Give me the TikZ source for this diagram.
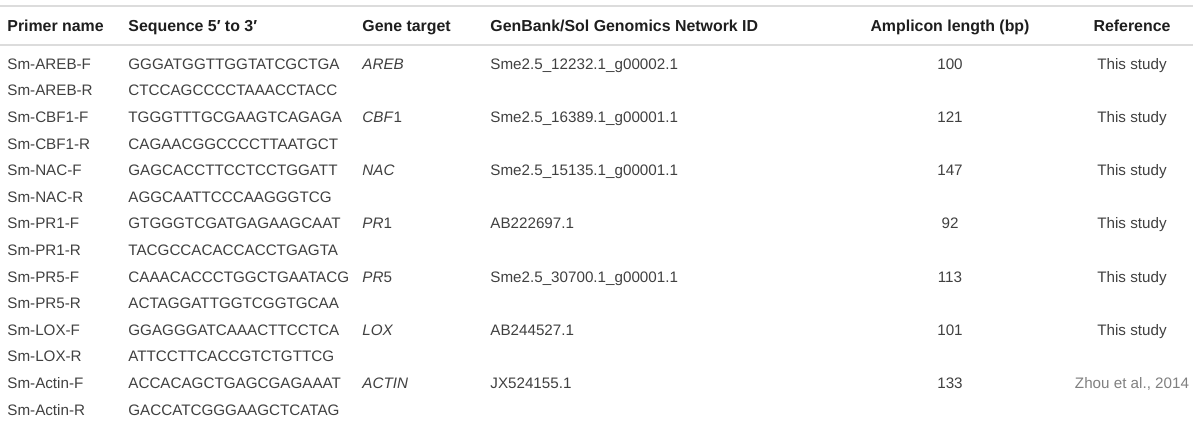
\documentclass[tikz,border=0pt]{standalone}
\usepackage{fontspec}
\setmainfont{Liberation Sans}
\definecolor{body}{HTML}{404040}
\definecolor{head}{HTML}{1E1E1E}
\definecolor{rulec}{HTML}{DCDCDC}
\definecolor{linkc}{HTML}{808080}
\tikzset{
  cell/.style={anchor=mid west, inner sep=0pt, font=\fontsize{7.6}{9}\selectfont, text=body},
  hcell/.style={anchor=mid west, inner sep=0pt, font=\fontsize{7.95}{9}\selectfont\bfseries, text=head},
  ccell/.style={cell, anchor=mid},
  hccell/.style={hcell, anchor=mid},
  rulestyle/.style={draw=rulec, line width=1pt}
}
\begin{document}
\begin{tikzpicture}[x=0.5pt,y=-0.5pt]
\useasboundingbox (0,0) rectangle (1200,425);
% rules
\coordinate (r1a) at (0,5.5); \coordinate (r1b) at (1193,5.5);
\coordinate (r2a) at (0,45); \coordinate (r2b) at (1193,45);
\draw[rulestyle] (r1a) -- (r1b);
\draw[rulestyle] (r2a) -- (r2b);
% header
\node[hcell] (h1) at (7,26) {Primer name};
\node[hcell] (h2) at (128,26) {Sequence 5′ to 3′};
\node[hcell] (h3) at (362,26) {Gene target};
\node[hcell] (h4) at (490,26) {GenBank/Sol Genomics Network ID};
\node[hccell] (h5) at (950,26) {Amplicon length (bp)};
\node[hccell] (h6) at (1132,26) {Reference};
% row 1
\node[cell] (a1) at (7,64) {Sm-AREB-F};
\node[cell] (b1) at (128,64) {GGGATGGTTGGTATCGCTGA};
\node[cell] (c1) at (362,64) {\itshape AREB};
\node[cell] (d1) at (490,64) {Sme2.5\_12232.1\_g00002.1};
\node[ccell] (e1) at (950,64) {100};
\node[ccell] (f1) at (1132,64) {This study};
% row 2
\node[cell] (a2) at (7,90.6) {Sm-AREB-R};
\node[cell] (b2) at (128,90.6) {CTCCAGCCCCTAAACCTACC};
% row 3
\node[cell] (a3) at (7,117.2) {Sm-CBF1-F};
\node[cell] (b3) at (128,117.2) {TGGGTTTGCGAAGTCAGAGA};
\node[cell] (c3) at (362,117.2) {\textit{CBF}1};
\node[cell] (d3) at (490,117.2) {Sme2.5\_16389.1\_g00001.1};
\node[ccell] (e3) at (950,117.2) {121};
\node[ccell] (f3) at (1132,117.2) {This study};
% row 4
\node[cell] (a4) at (7,143.8) {Sm-CBF1-R};
\node[cell] (b4) at (128,143.8) {CAGAACGGCCCCTTAATGCT};
% row 5
\node[cell] (a5) at (7,170.4) {Sm-NAC-F};
\node[cell] (b5) at (128,170.4) {GAGCACCTTCCTCCTGGATT};
\node[cell] (c5) at (362,170.4) {\itshape NAC};
\node[cell] (d5) at (490,170.4) {Sme2.5\_15135.1\_g00001.1};
\node[ccell] (e5) at (950,170.4) {147};
\node[ccell] (f5) at (1132,170.4) {This study};
% row 6
\node[cell] (a6) at (7,197) {Sm-NAC-R};
\node[cell] (b6) at (128,197) {AGGCAATTCCCAAGGGTCG};
% row 7
\node[cell] (a7) at (7,223.6) {Sm-PR1-F};
\node[cell] (b7) at (128,223.6) {GTGGGTCGATGAGAAGCAAT};
\node[cell] (c7) at (362,223.6) {\textit{PR}1};
\node[cell] (d7) at (490,223.6) {AB222697.1};
\node[ccell] (e7) at (950,223.6) {92};
\node[ccell] (f7) at (1132,223.6) {This study};
% row 8
\node[cell] (a8) at (7,250.2) {Sm-PR1-R};
\node[cell] (b8) at (128,250.2) {TACGCCACACCACCTGAGTA};
% row 9
\node[cell] (a9) at (7,276.8) {Sm-PR5-F};
\node[cell] (b9) at (128,276.8) {CAAACACCCTGGCTGAATACG};
\node[cell] (c9) at (362,276.8) {\textit{PR}5};
\node[cell] (d9) at (490,276.8) {Sme2.5\_30700.1\_g00001.1};
\node[ccell] (e9) at (950,276.8) {113};
\node[ccell] (f9) at (1132,276.8) {This study};
% row 10
\node[cell] (a10) at (7,303.4) {Sm-PR5-R};
\node[cell] (b10) at (128,303.4) {ACTAGGATTGGTCGGTGCAA};
% row 11
\node[cell] (a11) at (7,330) {Sm-LOX-F};
\node[cell] (b11) at (128,330) {GGAGGGATCAAACTTCCTCA};
\node[cell] (c11) at (362,330) {\itshape LOX};
\node[cell] (d11) at (490,330) {AB244527.1};
\node[ccell] (e11) at (950,330) {101};
\node[ccell] (f11) at (1132,330) {This study};
% row 12
\node[cell] (a12) at (7,356.6) {Sm-LOX-R};
\node[cell] (b12) at (128,356.6) {ATTCCTTCACCGTCTGTTCG};
% row 13
\node[cell] (a13) at (7,383.2) {Sm-Actin-F};
\node[cell] (b13) at (128,383.2) {ACCACAGCTGAGCGAGAAAT};
\node[cell] (c13) at (362,383.2) {\itshape ACTIN};
\node[cell] (d13) at (490,383.2) {JX524155.1};
\node[ccell] (e13) at (950,383.2) {133};
\node[ccell, text=linkc] (f13) at (1132,383.2) {Zhou et al., 2014};
% row 14
\node[cell] (a14) at (7,409.8) {Sm-Actin-R};
\node[cell] (b14) at (128,409.8) {GACCATCGGGAAGCTCATAG};
\end{tikzpicture}
\end{document}
